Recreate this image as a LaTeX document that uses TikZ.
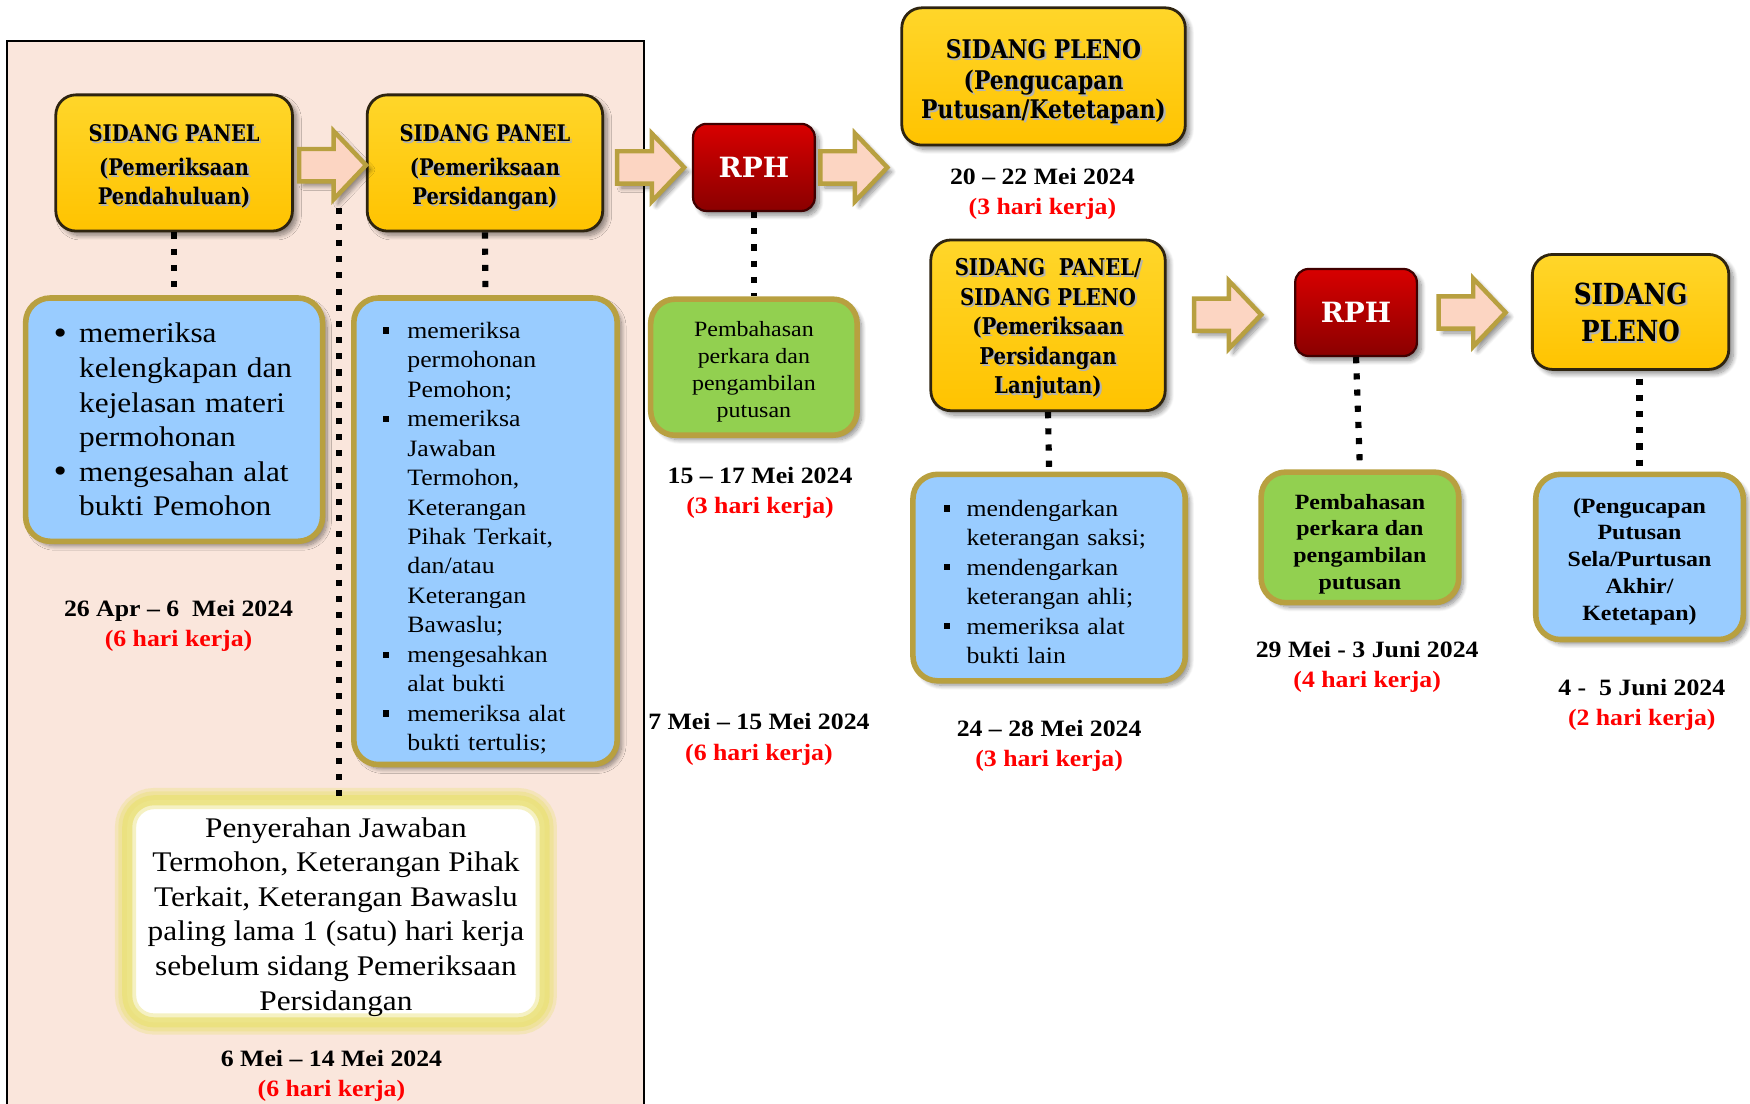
\documentclass[tikz,border=0pt]{standalone}
\usepackage{fontspec}
\setmainfont{Liberation Serif}[FakeStretch=1.1]
\newfontfamily\titlefont{DejaVu Serif}[FakeStretch=0.85]
\newfontfamily\rphfont{DejaVu Serif}
\usetikzlibrary{shadows.blur}

\definecolor{panelbg}{HTML}{FAE6DC}
\definecolor{ytop}{HTML}{FFD62A}
\definecolor{ybot}{HTML}{FFC300}
\definecolor{yedge}{HTML}{2E2410}
\definecolor{rtop}{HTML}{D80000}
\definecolor{rbot}{HTML}{8A0000}
\definecolor{olive}{HTML}{B8A040}
\definecolor{bluefill}{HTML}{99CCFF}
\definecolor{greenfill}{HTML}{92D050}
\definecolor{arrowfill}{HTML}{FCD5C2}
\definecolor{glow}{HTML}{EAE17A}
\definecolor{datered}{HTML}{FF0000}

% bullet helpers for the list boxes
\newcommand\roundbul{\makebox[23pt][l]{\raisebox{-1.5pt}{\fontsize{31}{31}\selectfont\textbullet}}}
\newcommand\roundgap{\hspace*{23pt}}
\newcommand\sqbul[1]{\makebox[#1][l]{\raisebox{0.2em}{\rule{5.5pt}{5.5pt}}}}
% centred block of lines with a soft grey copy behind it
\newcommand\linesblock[1]{\begin{tabular}{@{}c@{}}#1\end{tabular}}
\newcommand\tshadow[1]{\makebox[0pt][l]{\hspace*{1.8pt}\raisebox{-1.8pt}{%
  \color{black!30}\linesblock{#1}}}\linesblock{#1}}

\tikzset{
  softshadow/.style={blur shadow={shadow xshift=4pt,shadow yshift=-4pt,
      shadow blur radius=4pt,shadow blur steps=10,shadow opacity=45}},
  titlebox/.style={rectangle, rounded corners=18pt, draw=yedge, line width=2.5pt,
      top color=ytop, bottom color=ybot, softshadow, align=center, inner sep=0pt},
  rphbox/.style={rectangle, rounded corners=12pt, draw=black!75!red, line width=2pt,
      top color=rtop, bottom color=rbot, softshadow, text=white,
      font=\rphfont\bfseries\fontsize{25}{30}\selectfont,
      minimum width=109pt, minimum height=78pt},
  infobox/.style={rectangle, rounded corners=22pt, draw=olive, line width=5pt,
      softshadow, inner sep=0pt},
  bluebox/.style={infobox, fill=bluefill},
  greenbox/.style={infobox, fill=greenfill, align=center},
  dots/.style={line width=5.5pt, dash pattern=on 5.5pt off 9pt},
  datelabel/.style={align=center, font=\bfseries\fontsize{21}{27}\selectfont},
  blockarrow/.style={fill=arrowfill, draw=olive, line width=4pt, line join=miter,
      softshadow},
  glowbox/.style={rectangle, rounded corners=24pt, fill=white, align=center,
      inner sep=0pt,
      preaction={draw=glow, line width=22pt, opacity=0.35},
      postaction={draw=glow, line width=16pt, opacity=0.45},
      postaction={draw=glow, line width=9pt, opacity=0.8}},
}

\begin{document}
\begin{tikzpicture}[x=1pt,y=-1pt]
\useasboundingbox (0,0) rectangle (1568,989);

% shaded panel of the first stage
\fill[panelbg] (6,37) rectangle (577,1000);
\draw[line width=1.5pt] (6,1000) -- (6,37) -- (577,37) -- (577,1000);

% ---------------- main stage boxes ----------------
\node[titlebox, minimum width=212pt, minimum height=122pt,
      font=\titlefont\bfseries\fontsize{20.5}{26}\selectfont] (panA) at (156,146)
  {\tshadow{\rule{0pt}{27.2pt}SIDANG PANEL\\[4pt](Pemeriksaan\\Pendahuluan)}};
\node[titlebox, minimum width=211pt, minimum height=122pt,
      font=\titlefont\bfseries\fontsize{20.5}{26}\selectfont] (panB) at (434.5,146)
  {\tshadow{\rule{0pt}{27.2pt}SIDANG PANEL\\[4pt](Pemeriksaan\\Persidangan)}};
\node[rphbox] (rph1) at (675.5,150) {RPH};
\node[titlebox, minimum width=254pt, minimum height=123pt,
      font=\titlefont\bfseries\fontsize{23}{25.5}\selectfont] (plenoA) at (935,68.5)
  {\tshadow{\rule{0pt}{30.9pt}SIDANG PLENO\\[2pt](Pengucapan\\Putusan/Ketetapan)}};
\node[titlebox, minimum width=210pt, minimum height=153pt,
      font=\titlefont\bfseries\fontsize{20.7}{26.5}\selectfont] (lanj) at (939,291.5)
  {\tshadow{\rule{0pt}{26.6pt}SIDANG~ PANEL/\\SIDANG PLENO\\(Pemeriksaan\\Persidangan\\Lanjutan)}};
\node[rphbox] (rph2) at (1215,280) {RPH};
\node[titlebox, minimum width=176pt, minimum height=103pt,
      font=\titlefont\bfseries\fontsize{26}{34}\selectfont] (plenoB) at (1461,279.5)
  {\tshadow{\rule{0pt}{31.8pt}SIDANG\\PLENO}};

% ---------------- detail boxes ----------------
\node[bluebox, minimum width=266pt, minimum height=218pt, text width=216pt,
      align=left, font=\fontsize{25.5}{31}\selectfont] (listA) at (156,376)
  {\roundbul memeriksa\\ \roundgap kelengkapan dan\\ \roundgap kejelasan materi\\
   \roundgap permohonan\\ \roundbul mengesahan alat\\ \roundgap bukti Pemohon};

\node[bluebox, minimum width=236pt, minimum height=418pt, text width=184pt,
      align=left, font=\fontsize{21}{26.4}\selectfont] (listB) at (435,476)
  {\rule{0pt}{27pt}\sqbul{22pt}memeriksa\\ \hspace*{22pt}permohonan\\ \hspace*{22pt}Pemohon;\\
   \sqbul{22pt}memeriksa\\ \hspace*{22pt}Jawaban\\ \hspace*{22pt}Termohon,\\
   \hspace*{22pt}Keterangan\\ \hspace*{22pt}Pihak Terkait,\\ \hspace*{22pt}dan/atau\\
   \hspace*{22pt}Keterangan\\ \hspace*{22pt}Bawaslu;\\
   \sqbul{22pt}mengesahkan\\ \hspace*{22pt}alat bukti\\
   \sqbul{22pt}memeriksa alat\\ \hspace*{22pt}bukti tertulis;};

\node[greenbox, minimum width=185pt, minimum height=122pt,
      font=\fontsize{19.5}{24}\selectfont] (discA) at (675.5,329)
  {\rule{0pt}{22pt}Pembahasan\\perkara dan\\pengambilan\\putusan};

\node[bluebox, minimum width=244pt, minimum height=185pt, text width=188pt,
      align=left, font=\fontsize{21}{26.4}\selectfont] (listC) at (940,517.5)
  {\rule{0pt}{22.3pt}\sqbul{20pt}mendengarkan\\ \hspace*{20pt}keterangan saksi;\\
   \sqbul{20pt}mendengarkan\\ \hspace*{20pt}keterangan ahli;\\
   \sqbul{20pt}memeriksa alat\\ \hspace*{20pt}bukti lain};

\node[greenbox, minimum width=177pt, minimum height=117pt,
      font=\bfseries\fontsize{19.5}{24}\selectfont] (discB) at (1218.5,481.5)
  {\rule{0pt}{25.5pt}Pembahasan\\perkara dan\\pengambilan\\putusan};

\node[bluebox, minimum width=186pt, minimum height=148pt, align=center,
      font=\bfseries\fontsize{19.5}{24}\selectfont] (verdict) at (1469,499)
  {\rule{0pt}{21.5pt}(Pengucapan\\Putusan\\Sela/Purtusan\\Akhir/\\Ketetapan)};

\node[glowbox, minimum width=374pt, minimum height=199pt,
      font=\fontsize{25.5}{31}\selectfont] (submit) at (301,816.5)
  {\rule{0pt}{27.4pt}Penyerahan Jawaban\\Termohon, Keterangan Pihak\\Terkait, Keterangan Bawaslu\\
   paling lama 1 (satu) hari kerja\\sebelum sidang Pemeriksaan\\Persidangan};

% ---------------- dates ----------------
\node[datelabel] (dateA) at (160,560.5)
  {26 Apr – 6~ Mei 2024\\\textcolor{datered}{(6 hari kerja)}};
\node[datelabel] (dateS) at (297,964)
  {6 Mei – 14 Mei 2024\\\textcolor{datered}{(6 hari kerja)}};
\node[datelabel] (dateR1) at (681,441.5)
  {15 – 17 Mei 2024\\\textcolor{datered}{(3 hari kerja)}};
\node[datelabel] (dateB) at (680,662.5)
  {7 Mei – 15 Mei 2024\\\textcolor{datered}{(6 hari kerja)}};
\node[datelabel] (dateP1) at (934,173.5)
  {20 – 22 Mei 2024\\\textcolor{datered}{(3 hari kerja)}};
\node[datelabel] (dateC) at (940,668.5)
  {24 – 28 Mei 2024\\\textcolor{datered}{(3 hari kerja)}};
\node[datelabel] (dateR2) at (1225,597.5)
  {29 Mei - 3 Juni 2024\\\textcolor{datered}{(4 hari kerja)}};
\node[datelabel] (dateP2) at (1471,631.5)
  {4 -~ 5 Juni 2024\\\textcolor{datered}{(2 hari kerja)}};

% ---------------- block arrows between stages ----------------
\foreach \ax/\ay in {268/148, 553/150, 735/150, 1070/282, 1289/280}{
  \draw[blockarrow] (\ax,\ay) ++(0,14.5) -- ++(31,0) -- ++(0,16) -- ++(29,-30.5)
    -- ++(-29,-30.5) -- ++(0,16) -- ++(-31,0) -- cycle;
}

% ---------------- dotted links ----------------
\draw[dots] (panA.south) -- (listA.north);
\draw[dots] (panB.south) -- (listB.north);
\draw[dots] (rph1.south) -- (discA.north);
\draw[dots] (lanj.south) -- (listC.north);
\draw[dots] (rph2.south) -- (discB.north);
\draw[dots] (verdict.north |- plenoB.south) ++(0,7) -- (verdict.north);
\coordinate (longtop) at (304,186);
\draw[dots] (longtop) -- (longtop |- submit.north) ++(0,-9);
\end{tikzpicture}
\end{document}
